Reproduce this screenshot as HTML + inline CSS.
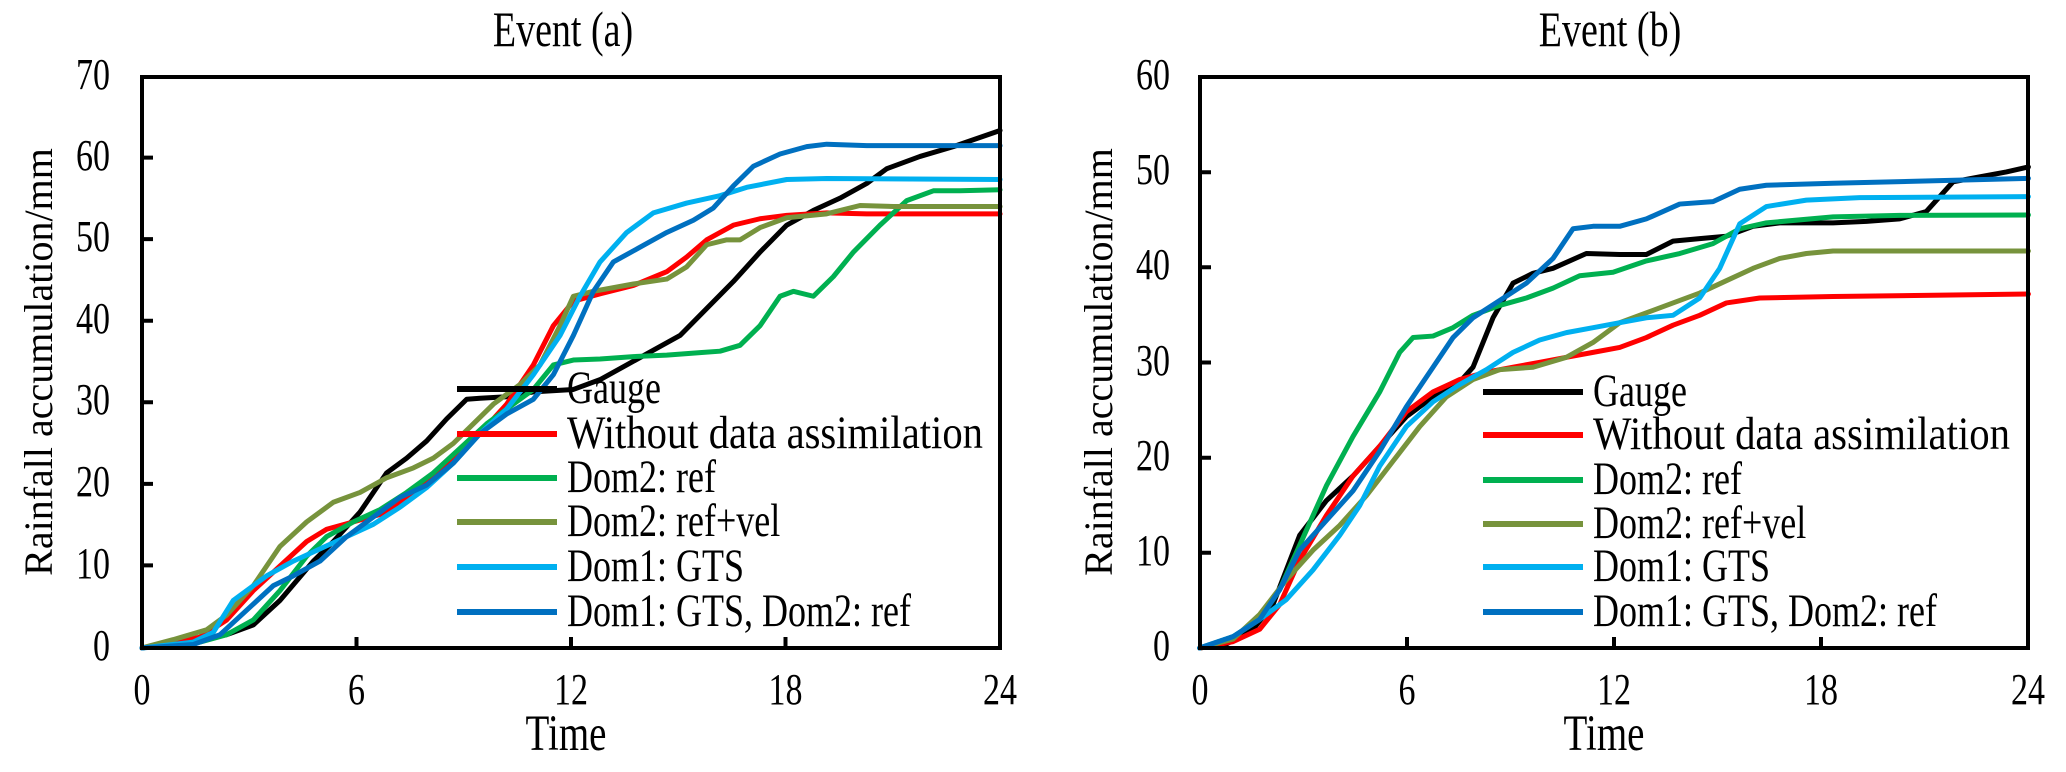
<!DOCTYPE html>
<html><head><meta charset="utf-8"><style>
html,body{margin:0;padding:0;background:#fff;}
svg{display:block;font-family:"Liberation Serif",serif;}
</style></head><body>
<svg width="2066" height="772" viewBox="0 0 2066 772" xmlns="http://www.w3.org/2000/svg">
<g fill="none" stroke-width="5" stroke-linejoin="round" stroke-linecap="round">
<g transform="matrix(0.6667 0 0 0.4905 0 1.95)">
<polyline vector-effect="non-scaling-stroke" stroke="#000" points="213,1317 300,1300 340,1290 380,1270 420,1220 470,1140 500,1100 540,1040 580,960 610,930 640,895 670,850 700,810 720,808 760,805 800,795 860,790 900,770 940,740 980,710 1020,680 1060,625 1100,570 1140,510 1180,455 1220,425 1260,400 1300,370 1330,340 1380,315 1430,295 1500,262"/>
<polyline vector-effect="non-scaling-stroke" stroke="#ff0000" points="213,1317 300,1295 340,1260 380,1200 420,1150 460,1100 490,1075 530,1060 570,1045 610,1010 650,970 690,920 720,880 760,820 800,740 830,660 860,610 900,595 950,578 1000,550 1030,520 1060,485 1100,455 1140,442 1180,435 1240,430 1300,432 1500,432"/>
<polyline vector-effect="non-scaling-stroke" stroke="#00b050" points="213,1317 300,1305 340,1290 380,1260 420,1200 460,1130 490,1090 530,1060 570,1035 610,1000 650,960 690,910 730,860 770,820 800,790 830,740 860,730 900,728 950,723 1000,720 1050,715 1080,712 1110,700 1140,660 1170,600 1190,590 1220,600 1250,560 1280,510 1320,455 1360,405 1400,385 1440,385 1500,383"/>
<polyline vector-effect="non-scaling-stroke" stroke="#77933c" points="213,1317 260,1300 310,1280 340,1250 380,1190 420,1110 460,1060 500,1020 540,1000 580,970 620,950 650,930 680,900 710,860 740,820 780,780 810,740 840,660 860,600 890,590 950,575 1000,565 1030,540 1060,495 1090,485 1110,485 1140,460 1180,440 1240,432 1290,415 1340,417 1500,417"/>
<polyline vector-effect="non-scaling-stroke" stroke="#00b0f0" points="213,1317 290,1305 320,1285 350,1220 400,1170 440,1140 480,1115 520,1090 560,1065 600,1030 640,990 680,940 720,880 760,830 800,760 840,680 870,600 900,530 940,470 980,430 1030,410 1080,395 1120,378 1180,362 1240,360 1500,362"/>
<polyline vector-effect="non-scaling-stroke" stroke="#0070c0" points="213,1317 290,1310 330,1290 370,1240 410,1190 440,1170 480,1140 520,1090 560,1050 600,1010 640,985 680,940 720,880 760,840 800,810 830,760 860,680 890,590 920,530 960,500 1000,470 1040,445 1070,420 1100,375 1130,335 1170,310 1210,295 1240,290 1300,293 1500,293"/>
</g>
<g transform="matrix(0.6667 0 0 0.4944 1033 1.36)">
<polyline vector-effect="non-scaling-stroke" stroke="#000" points="250,1308 290,1300 330,1270 360,1220 400,1080 440,1010 480,960 520,900 560,840 600,800 640,770 660,740 690,640 720,570 750,550 780,540 830,510 880,512 920,512 960,485 1000,480 1040,475 1080,455 1120,448 1200,448 1250,445 1300,440 1340,425 1380,365 1420,355 1460,345 1493,335"/>
<polyline vector-effect="non-scaling-stroke" stroke="#ff0000" points="250,1308 300,1295 340,1270 370,1220 400,1130 440,1040 480,960 520,900 560,830 600,790 640,765 680,750 720,740 760,730 800,720 840,710 880,700 920,680 960,655 1000,635 1040,610 1090,600 1200,597 1493,592"/>
<polyline vector-effect="non-scaling-stroke" stroke="#00b050" points="250,1308 300,1285 340,1250 370,1190 400,1100 440,980 480,880 520,790 550,710 570,680 600,677 630,660 660,635 700,615 740,600 780,580 820,555 870,548 920,525 970,510 1020,490 1060,460 1100,448 1200,436 1300,433 1493,432"/>
<polyline vector-effect="non-scaling-stroke" stroke="#77933c" points="250,1308 300,1290 340,1240 380,1170 420,1110 460,1060 500,1000 540,930 580,860 620,800 660,765 700,745 750,740 800,720 840,690 880,650 920,630 960,610 1000,590 1040,565 1080,540 1120,520 1160,510 1200,505 1493,505"/>
<polyline vector-effect="non-scaling-stroke" stroke="#00b0f0" points="250,1308 300,1285 340,1250 380,1210 420,1150 460,1080 490,1020 520,940 560,860 600,810 640,775 680,745 720,710 760,685 800,670 840,660 880,650 920,640 960,635 1000,600 1030,540 1060,450 1100,415 1160,402 1240,397 1493,395"/>
<polyline vector-effect="non-scaling-stroke" stroke="#0070c0" points="250,1308 300,1285 340,1250 370,1190 400,1110 440,1050 480,990 520,910 560,820 600,740 630,680 660,640 700,605 740,570 780,520 810,460 840,455 880,455 920,440 970,410 1020,405 1060,380 1100,372 1200,368 1493,358"/>
</g>
<g stroke-width="6" stroke-linecap="butt">
<line x1="457" y1="389" x2="557" y2="389" stroke="#000"/>
<line x1="457" y1="434" x2="557" y2="434" stroke="#ff0000"/>
<line x1="457" y1="478" x2="557" y2="478" stroke="#00b050"/>
<line x1="457" y1="522" x2="557" y2="522" stroke="#77933c"/>
<line x1="457" y1="567" x2="557" y2="567" stroke="#00b0f0"/>
<line x1="457" y1="612" x2="557" y2="612" stroke="#0070c0"/>
<line x1="1483" y1="392" x2="1583" y2="392" stroke="#000"/>
<line x1="1483" y1="435" x2="1583" y2="435" stroke="#ff0000"/>
<line x1="1483" y1="480" x2="1583" y2="480" stroke="#00b050"/>
<line x1="1483" y1="524" x2="1583" y2="524" stroke="#77933c"/>
<line x1="1483" y1="567" x2="1583" y2="567" stroke="#00b0f0"/>
<line x1="1483" y1="612" x2="1583" y2="612" stroke="#0070c0"/>
</g>
</g>
<g fill="none" stroke="#000" stroke-width="4">
<rect x="142" y="77" width="858" height="571"/>
<rect x="1200" y="77" width="828" height="571"/>
<path d="M142,157.6H153M142,239.1H153M142,320.7H153M142,402.3H153M142,483.9H153M142,565.4H153M356.5,648V637M571,648V637M785.5,648V637M1200,172.2H1211M1200,267.3H1211M1200,362.5H1211M1200,457.7H1211M1200,552.8H1211M1407,648V637M1614,648V637M1821,648V637"/>
</g>
<g font-size="34" fill="#000">
<g text-anchor="end">
<text transform="translate(110,89) scale(1,1.3)">70</text><text transform="translate(110,170) scale(1,1.3)">60</text><text transform="translate(110,251) scale(1,1.3)">50</text><text transform="translate(110,333) scale(1,1.3)">40</text><text transform="translate(110,414) scale(1,1.3)">30</text><text transform="translate(110,496) scale(1,1.3)">20</text><text transform="translate(110,578) scale(1,1.3)">10</text><text transform="translate(110,660) scale(1,1.3)">0</text>
<text transform="translate(1170,89) scale(1,1.3)">60</text><text transform="translate(1170,184) scale(1,1.3)">50</text><text transform="translate(1170,279) scale(1,1.3)">40</text><text transform="translate(1170,375) scale(1,1.3)">30</text><text transform="translate(1170,470) scale(1,1.3)">20</text><text transform="translate(1170,565) scale(1,1.3)">10</text><text transform="translate(1170,660) scale(1,1.3)">0</text>
</g>
<g text-anchor="middle">
<text transform="translate(142,704) scale(1,1.3)">0</text><text transform="translate(356.5,704) scale(1,1.3)">6</text><text transform="translate(571,704) scale(1,1.3)">12</text><text transform="translate(785.5,704) scale(1,1.3)">18</text><text transform="translate(1000,704) scale(1,1.3)">24</text>
<text transform="translate(1200,704) scale(1,1.3)">0</text><text transform="translate(1407,704) scale(1,1.3)">6</text><text transform="translate(1614,704) scale(1,1.3)">12</text><text transform="translate(1821,704) scale(1,1.3)">18</text><text transform="translate(2028,704) scale(1,1.3)">24</text>
<text transform="translate(566,750) scale(1,1.3)" font-size="39">Time</text>
<text transform="translate(1604,750) scale(1,1.3)" font-size="39">Time</text>
<text transform="translate(563,46) scale(1,1.3)" font-size="38">Event (a)</text>
<text transform="translate(1610,46) scale(1,1.3)" font-size="38">Event (b)</text>
<text transform="translate(52,362) rotate(-90)" font-size="40">Rainfall accumulation/mm</text>
<text transform="translate(1112,362) rotate(-90)" font-size="40">Rainfall accumulation/mm</text>
</g>
<g font-size="36">
<text transform="translate(567,403) scale(1,1.3)">Gauge</text>
<text transform="translate(567,448) scale(1,1.3)" textLength="416" lengthAdjust="spacingAndGlyphs">Without data assimilation</text>
<text transform="translate(567,492) scale(1,1.3)">Dom2: ref</text>
<text transform="translate(567,536) scale(1,1.3)">Dom2: ref+vel</text>
<text transform="translate(567,581) scale(1,1.3)">Dom1: GTS</text>
<text transform="translate(567,626) scale(1,1.3)">Dom1: GTS, Dom2: ref</text>
<text transform="translate(1593,406) scale(1,1.3)">Gauge</text>
<text transform="translate(1593,449) scale(1,1.3)" textLength="417" lengthAdjust="spacingAndGlyphs">Without data assimilation</text>
<text transform="translate(1593,494) scale(1,1.3)">Dom2: ref</text>
<text transform="translate(1593,538) scale(1,1.3)">Dom2: ref+vel</text>
<text transform="translate(1593,581) scale(1,1.3)">Dom1: GTS</text>
<text transform="translate(1593,626) scale(1,1.3)">Dom1: GTS, Dom2: ref</text>
</g>
</g>
</svg>
</body></html>
